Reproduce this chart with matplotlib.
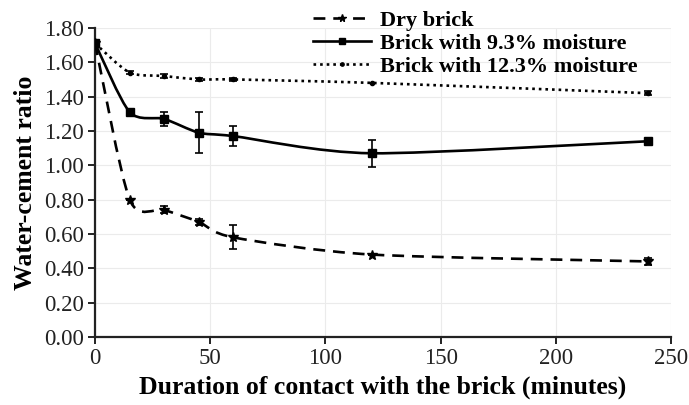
import numpy as np
import matplotlib.pyplot as plt
from matplotlib.path import Path
from matplotlib.patches import PathPatch
from matplotlib.lines import Line2D

plt.rcParams['font.family'] = ['Liberation Serif', 'DejaVu Serif']

minutes = [0, 15, 30, 45, 60, 120, 240]

dry = [1.71, 0.80, 0.74, 0.67, 0.58, 0.48, 0.44]
dry_err = [0.0, 0.0, 0.02, 0.02, 0.07, 0.0, 0.02]

moist_93 = [1.71, 1.31, 1.27, 1.19, 1.17, 1.07, 1.14]
moist_93_err = [0.0, 0.0, 0.04, 0.12, 0.06, 0.08, 0.01]

moist_123 = [1.71, 1.54, 1.52, 1.50, 1.50, 1.48, 1.42]
moist_123_err = [0.0, 0.01, 0.01, 0.01, 0.01, 0.0, 0.01]


def smooth_path(x, y, tension=0.13):
    # spreadsheet-style smoothed line: cubic bezier through every point
    x = np.asarray(x, float)
    y = np.asarray(y, float)
    verts = [(x[0], y[0])]
    codes = [Path.MOVETO]
    n = len(x)
    for i in range(n - 1):
        i0 = max(i - 1, 0)
        i3 = min(i + 2, n - 1)
        c1 = (x[i] + (x[i + 1] - x[i0]) * tension, y[i] + (y[i + 1] - y[i0]) * tension)
        c2 = (x[i + 1] - (x[i3] - x[i]) * tension, y[i + 1] - (y[i3] - y[i]) * tension)
        verts += [c1, c2, (x[i + 1], y[i + 1])]
        codes += [Path.CURVE4] * 3
    return Path(verts, codes)


fig = plt.figure(figsize=(6.89, 4.05), dpi=100)
ax = fig.add_axes([0.138, 0.168, 0.836, 0.763])

series = [
    (dry, dry_err, (0, (4.5, 3)), '*', 7, 'Dry brick'),
    (moist_93, moist_93_err, '-', 's', 6, 'Brick with 9.3% moisture'),
    (moist_123, moist_123_err, (0, (1, 1.5)), 'o', 3, 'Brick with 12.3% moisture'),
]

handles = []
for vals, err, ls, mk, ms, name in series:
    ax.add_patch(PathPatch(smooth_path(minutes, vals), facecolor='none',
                           edgecolor='black', lw=1.9, linestyle=ls, zorder=3))
    ax.errorbar(minutes, vals, yerr=err, fmt=mk, ms=ms, color='black',
                ecolor='black', elinewidth=1.2, capsize=3, capthick=1.2, zorder=4)
    handles.append(Line2D([], [], color='black', lw=1.9, linestyle=ls,
                          marker=mk, ms=ms * 0.8, label=name))

ax.set_xlim(0, 250)
ax.set_ylim(0, 1.8)
ax.set_xticks(np.arange(0, 251, 50))
ax.set_yticks(np.arange(0, 1.81, 0.2))
ax.set_yticklabels([f'{v:.2f}' for v in np.arange(0, 1.81, 0.2)])
ax.grid(True, color='#ebebeb', lw=0.8)
ax.set_axisbelow(True)

for s in ['top', 'right']:
    ax.spines[s].set_visible(False)
for s in ['left', 'bottom']:
    ax.spines[s].set_linewidth(1.6)
    ax.spines[s].set_color('#222222')

ax.tick_params(direction='out', length=5, width=1.4, labelsize=16.5,
               colors='#222222', pad=3)

ax.set_xlabel('Duration of contact with the brick (minutes)', fontsize=18.5,
              fontweight='bold', labelpad=5)
ax.set_ylabel('Water-cement ratio', fontsize=18.5, fontweight='bold', labelpad=5)

fig.legend(handles=handles, loc='upper left', bbox_to_anchor=(0.44, 1.0),
           frameon=False, prop={'weight': 'bold', 'size': 16},
           handlelength=2.6, handletextpad=0.4, labelspacing=0.12,
           borderaxespad=0.05)

fig.savefig('out.png', dpi=100)
